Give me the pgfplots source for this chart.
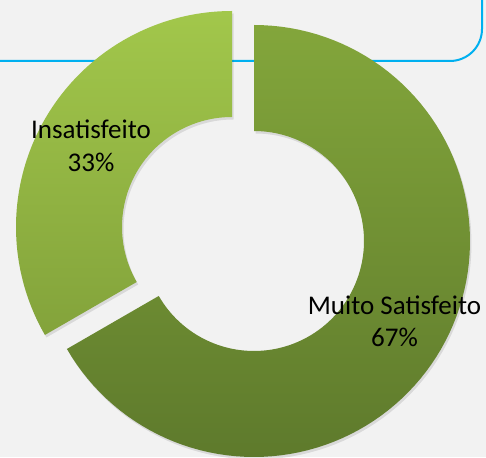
\documentclass[border=0pt]{standalone}
\usepackage{pgfplots}
\pgfplotsset{compat=1.18}
\usepackage{pgfplotstable}
\usepackage{fontspec}
\setmainfont{Carlito}
\definecolor{bgc}{HTML}{F2F2F2}
\definecolor{frame}{HTML}{00B0F0}
\definecolor{muitoTop}{HTML}{83A63B}
\definecolor{muitoBot}{HTML}{5E7A2C}
\definecolor{insTop}{HTML}{A2C74B}
\definecolor{insBot}{HTML}{83A33B}

% share (%) and exploded centre of each slice
\pgfplotstableread{
value cx cy
66.67 254 216
33.33 232 230
}\piedata
\pgfplotstablegetelem{0}{value}\of\piedata \let\vA\pgfplotsretval
\pgfplotstablegetelem{1}{value}\of\piedata \let\vB\pgfplotsretval
\pgfplotstablegetelem{0}{cx}\of\piedata \let\xA\pgfplotsretval
\pgfplotstablegetelem{0}{cy}\of\piedata \let\yA\pgfplotsretval
\pgfplotstablegetelem{1}{cx}\of\piedata \let\xB\pgfplotsretval
\pgfplotstablegetelem{1}{cy}\of\piedata \let\yB\pgfplotsretval
\pgfmathsetmacro{\aA}{90-3.6*\vA}
\pgfmathsetmacro{\aB}{\aA-3.6*\vB}

% ring slice: #1 start angle, #2 end angle, #3 cx, #4 cy, #5 style
\newcommand{\ring}[5]{%
  \addplot[#5, samples at={0,...,201}, variable=\t]
  ({#3+ifthenelse(\t<=100,216,110)*cos(ifthenelse(\t<=100,#1+\t/100*(#2-(#1)),#2+(\t-101)/100*(#1-(#2))))},
   {#4+ifthenelse(\t<=100,216,110)*sin(ifthenelse(\t<=100,#1+\t/100*(#2-(#1)),#2+(\t-101)/100*(#1-(#2))))});
}

\begin{document}
\begin{tikzpicture}[lbl/.style={anchor=base, font=\fontsize{27}{32}\selectfont}]
\begin{axis}[scale only axis, width=486pt, height=457pt,
  xmin=0, xmax=486, ymin=0, ymax=457,
  axis line style={draw=none}, xtick=\empty, ytick=\empty,
  axis background/.style={fill=bgc}, no markers]
  \draw[frame, line width=2pt, rounded corners=32pt]
    (axis cs:-10,396) -- (axis cs:482,396) -- (axis cs:482,470);
  % soft shadows
  \ring{90}{\aA}{\xA+1.5}{\yA-2.5}{fill=black, fill opacity=0.10, draw=none}
  \ring{\aA}{\aB}{\xB+1.5}{\yB-2.5}{fill=black, fill opacity=0.10, draw=none}
  % slices
  \ring{90}{\aA}{\xA}{\yA}{top color=muitoTop, bottom color=muitoBot, draw=none}
  \ring{\aA}{\aB}{\xB}{\yB}{top color=insTop, bottom color=insBot, draw=none}
  \node[lbl] at (axis cs:91,318) {Insatisfeito};
  \node[lbl] at (axis cs:91,285) {33\%};
  \node[lbl] at (axis cs:394.5,142) {Muito Satisfeito};
  \node[lbl] at (axis cs:394.5,110) {67\%};
\end{axis}
\end{tikzpicture}
\end{document}
